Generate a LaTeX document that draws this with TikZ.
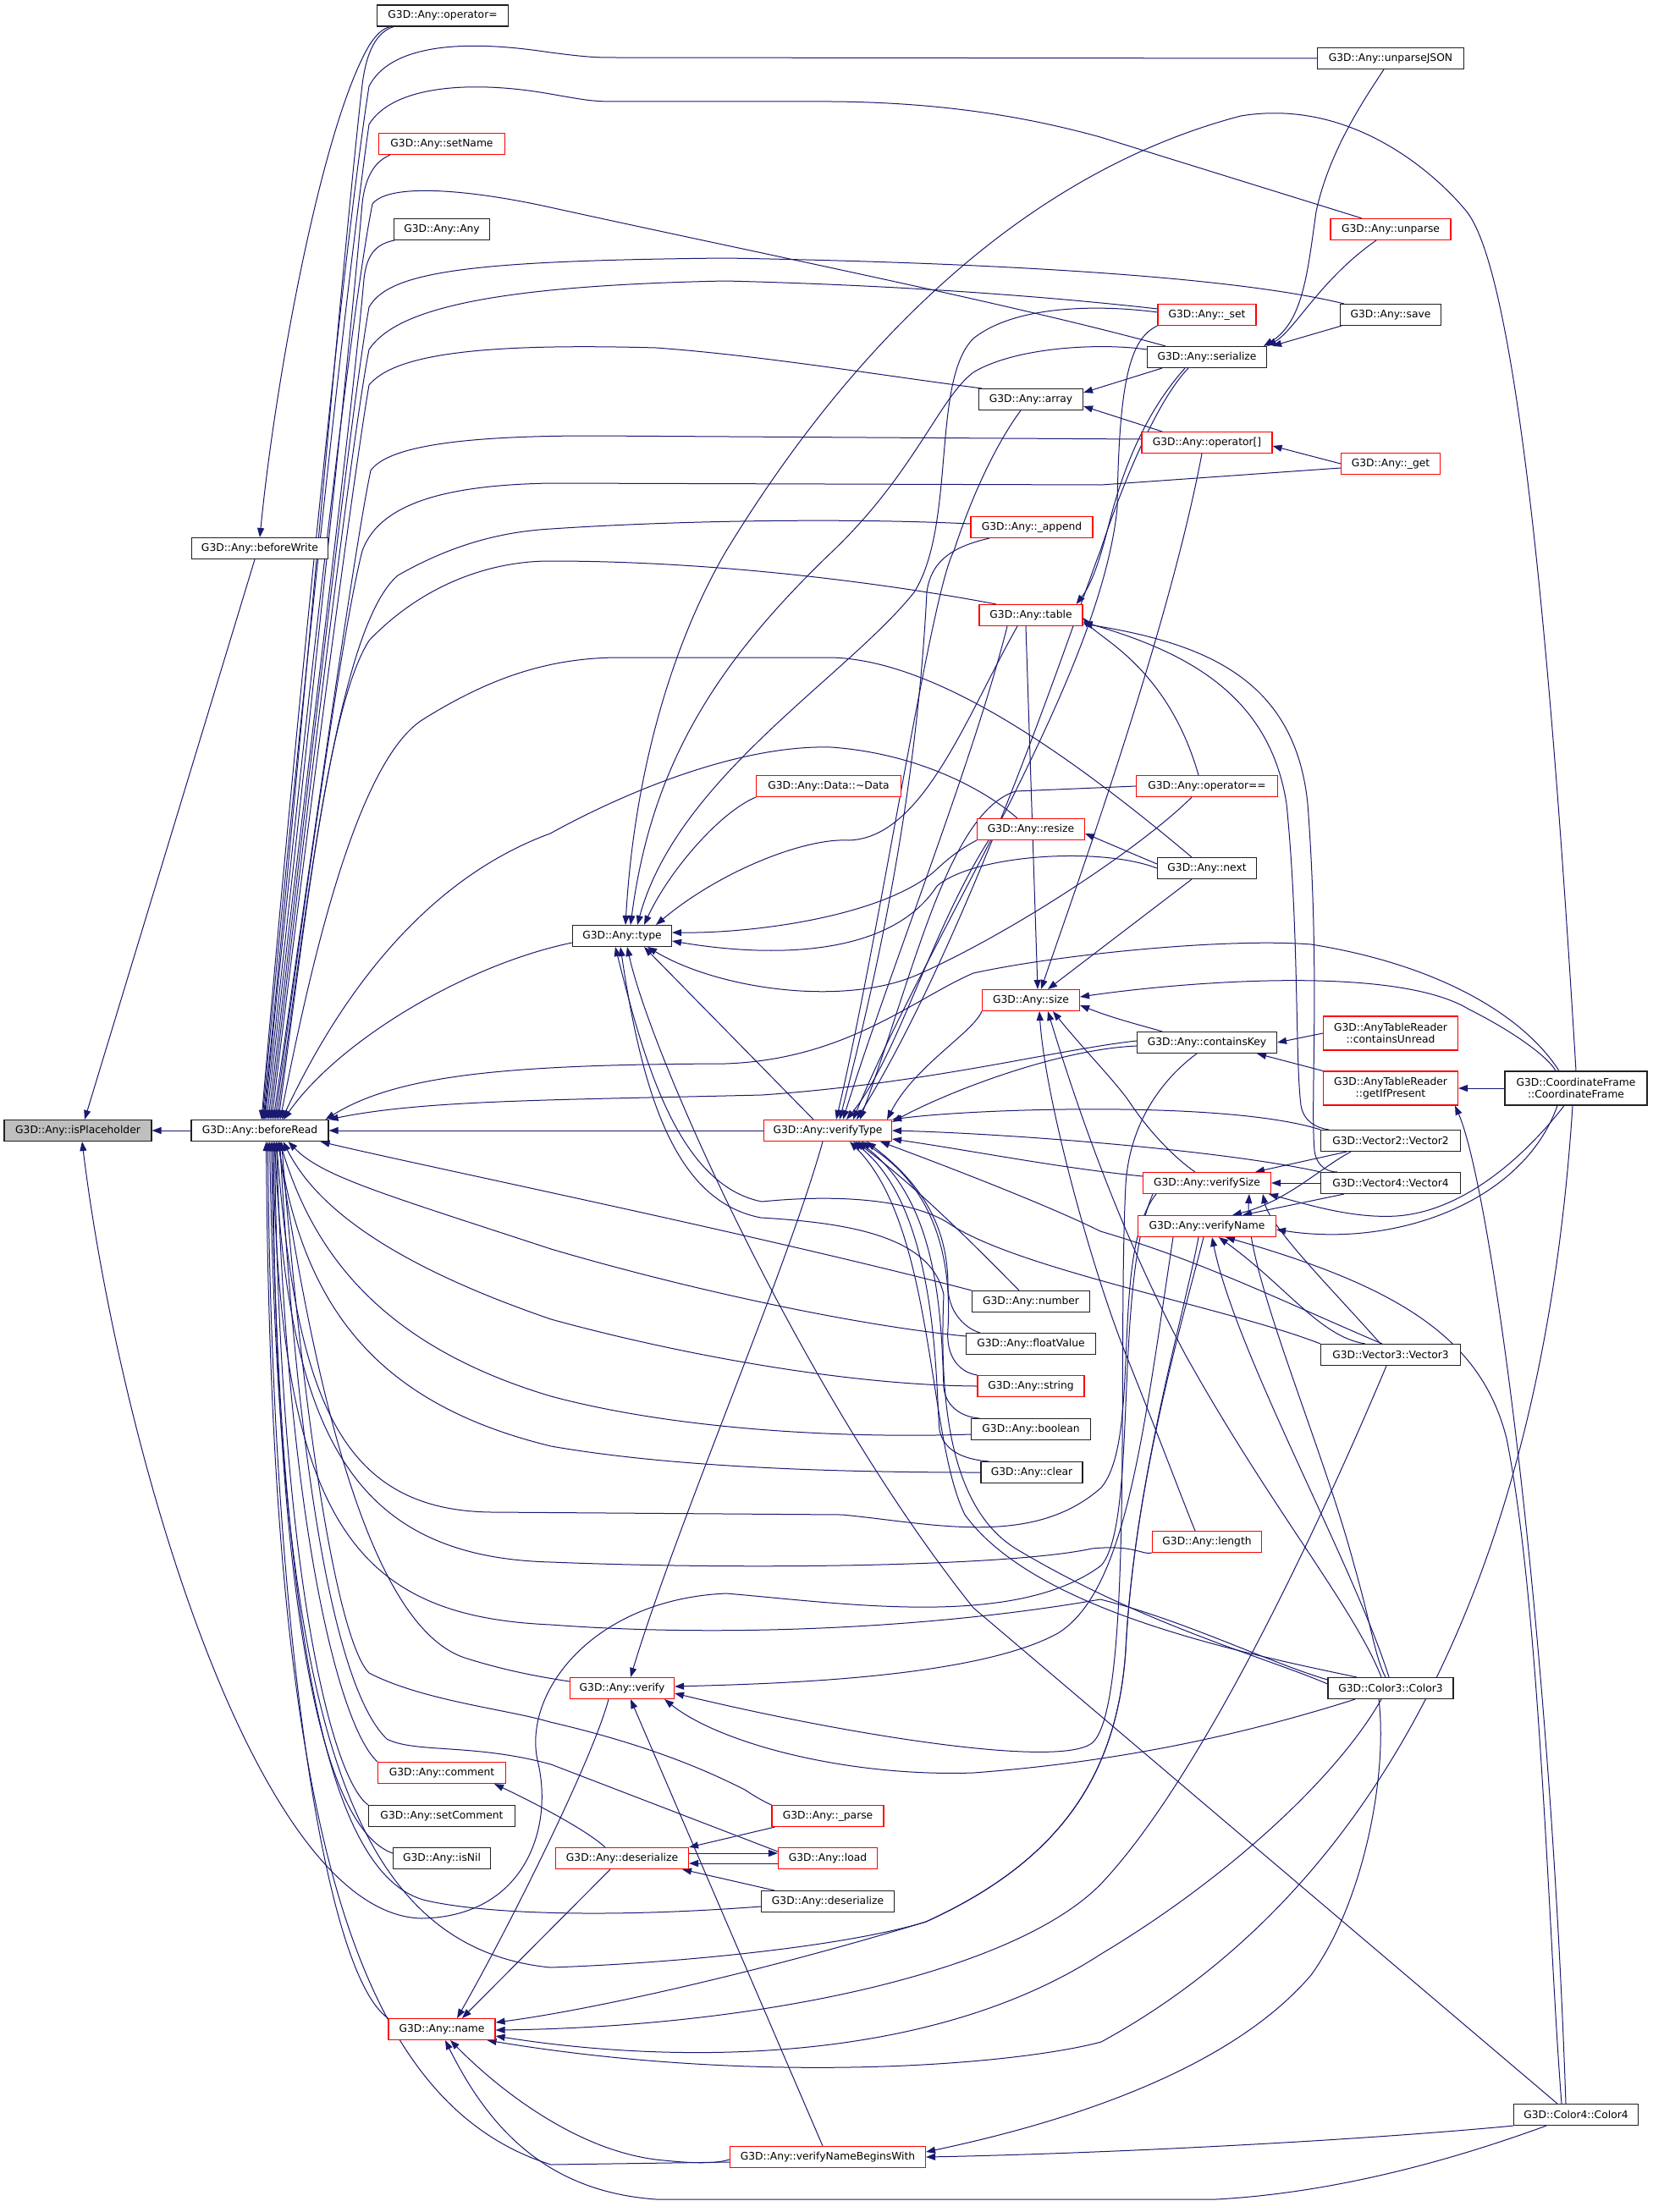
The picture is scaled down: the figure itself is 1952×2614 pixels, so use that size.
\documentclass[tikz,border=0pt]{standalone}
\usepackage{fontspec}
\setmainfont{DejaVu Sans}
\usetikzlibrary{arrows.meta}
\definecolor{navy}{HTML}{191970}
\definecolor{grayfill}{HTML}{BFBFBF}
\definecolor{rdc}{HTML}{FF0000}
\definecolor{bdc}{HTML}{202020}
\pgfdeclarelayer{back}
\pgfdeclarelayer{bg}
\pgfsetlayers{back,bg,main}
\begin{document}
\begin{tikzpicture}[x=1pt,y=-1pt,
  nd/.style={draw=bdc, line width=1.1pt, fill=white, minimum height=25pt, inner sep=0pt, font=\fontsize{12.3}{14.5}\selectfont, text=black},
  rd/.style={nd, draw=rdc},
  e/.style={draw=navy, line width=1pt, arrows={Triangle[length=11pt,width=8pt]-}}]
\begin{pgfonlayer}{back}
\fill[white] (0,0) rectangle (1952,2614);
\end{pgfonlayer}
\useasboundingbox (0,0) rectangle (1952,2614);
% nodes
\node[nd,fill=grayfill,minimum width=174pt] (nIsph) at (92,1336) {G3D::Any::isPlaceholder};
\node[nd,minimum width=162pt] (nBR) at (307,1336) {G3D::Any::beforeRead};
\node[nd,minimum width=161pt] (nBW) at (307,648) {G3D::Any::beforeWrite};
\node[nd,minimum width=155pt] (nOpEq) at (523,18.5) {G3D::Any::operator=};
\node[rd,minimum width=149pt] (nSetName) at (522,170) {G3D::Any::setName};
\node[nd,minimum width=113pt] (nAnyAny) at (522,271) {G3D::Any::Any};
\node[nd,minimum width=117pt] (nType) at (735,1106) {G3D::Any::type};
\node[rd,minimum width=151pt] (nVType) at (978,1336) {G3D::Any::verifyType};
\node[rd,minimum width=123pt] (nVerify) at (735,1995) {G3D::Any::verify};
\node[rd,minimum width=151pt] (nComment) at (522,2095) {G3D::Any::comment};
\node[nd,minimum width=173pt] (nSetComment) at (522,2146) {G3D::Any::setComment};
\node[nd,minimum width=115pt] (nIsNil) at (522,2196) {G3D::Any::isNil};
\node[rd,minimum width=157pt] (nDeser) at (735,2196) {G3D::Any::deserialize};
\node[rd,minimum width=126pt] (nName) at (522,2398) {G3D::Any::name};
\node[rd,minimum width=231pt] (nVnbw) at (978,2549) {G3D::Any::verifyNameBeginsWith};
\node[nd,minimum width=173pt] (nUnparseJSON) at (1643,69) {G3D::Any::unparseJSON};
\node[rd,minimum width=142pt] (nUnparse) at (1643,271) {G3D::Any::unparse};
\node[nd,minimum width=119pt] (nSave) at (1643,372) {G3D::Any::save};
\node[rd,minimum width=116pt] (nSet) at (1426,372) {G3D::Any::\_set};
\node[nd,minimum width=141pt] (nSerialize) at (1426,422) {G3D::Any::serialize};
\node[nd,minimum width=123pt] (nArray) at (1218,472) {G3D::Any::array};
\node[rd,minimum width=154pt] (nOpIdx) at (1426,523) {G3D::Any::operator[]};
\node[rd,minimum width=117pt] (nGet) at (1643,548) {G3D::Any::\_get};
\node[rd,minimum width=144pt] (nAppend) at (1219,623) {G3D::Any::\_append};
\node[rd,minimum width=122pt] (nTable) at (1218,727) {G3D::Any::table};
\node[rd,minimum width=171pt] (nData) at (979,929) {G3D::Any::Data::\textasciitilde Data};
\node[rd,minimum width=167pt] (nOpEqEq) at (1426,929) {G3D::Any::operator==};
\node[rd,minimum width=127pt] (nResize) at (1218,980) {G3D::Any::resize};
\node[nd,minimum width=117pt] (nNext) at (1426,1026) {G3D::Any::next};
\node[rd,minimum width=115pt] (nSize) at (1218,1182) {G3D::Any::size};
\node[nd,minimum width=165pt] (nContainsKey) at (1426,1232) {G3D::Any::containsKey};
\node[rd,minimum width=159pt,minimum height=40pt,align=center] (nContainsUnread) at (1643,1221) {G3D::AnyTableReader\\::containsUnread};
\node[rd,minimum width=159pt,minimum height=40pt,align=center] (nGetIfPresent) at (1643,1286) {G3D::AnyTableReader\\::getIfPresent};
\node[nd,minimum width=168pt,minimum height=40pt,align=center] (nCF) at (1862,1286) {G3D::CoordinateFrame\\::CoordinateFrame};
\node[nd,minimum width=165pt] (nVector2) at (1643,1348) {G3D::Vector2::Vector2};
\node[rd,minimum width=151pt] (nVerifySize) at (1426,1398) {G3D::Any::verifySize};
\node[nd,minimum width=165pt] (nVector4) at (1643,1398) {G3D::Vector4::Vector4};
\node[rd,minimum width=163pt] (nVerifyName) at (1426,1449) {G3D::Any::verifyName};
\node[nd,minimum width=139pt] (nNumber) at (1218,1538) {G3D::Any::number};
\node[nd,minimum width=153pt] (nFloatValue) at (1218,1588) {G3D::Any::floatValue};
\node[nd,minimum width=165pt] (nVector3) at (1643,1601) {G3D::Vector3::Vector3};
\node[rd,minimum width=126pt] (nString) at (1218,1638) {G3D::Any::string};
\node[nd,minimum width=141pt] (nBoolean) at (1218,1689) {G3D::Any::boolean};
\node[nd,minimum width=120pt] (nClear) at (1219,1740) {G3D::Any::clear};
\node[rd,minimum width=129pt] (nLength) at (1426,1822) {G3D::Any::length};
\node[nd,minimum width=148pt] (nColor3) at (1643,1995) {G3D::Color3::Color3};
\node[rd,minimum width=132pt] (nParse) at (978,2146) {G3D::Any::\_parse};
\node[rd,minimum width=117pt] (nLoad) at (978,2196) {G3D::Any::load};
\node[nd,minimum width=157pt] (nDeser2) at (978,2247) {G3D::Any::deserialize};
\node[nd,minimum width=147pt] (nColor4) at (1862,2499) {G3D::Color4::Color4};

\begin{pgfonlayer}{bg}
% isPlaceholder
\draw[e] (nIsph.east) -- (nBR.west);
\draw[e] ([xshift=8pt]nIsph.north) -- ([xshift=-6pt]nBW.south);
\draw[e] ([xshift=5pt]nIsph.south) .. controls (140,1700) and (300,2262) .. (498,2267) .. controls (620,2265) and (655,2160) .. (635,2080) .. controls (618,2000) and (700,1890) .. (858,1883) .. controls (1000,1895) and (1200,1925) .. (1301,1850) .. controls (1345,1800) and (1315,1520) .. ([xshift=-64pt]nVerifySize.south);
% beforeWrite
\draw[e] (nBW.north) .. controls (325,450) and (380,150) .. (436,54) .. controls (445,40) and (452,34) .. ([xshift=-62pt]nOpEq.south);
% beforeRead up
\draw[e] ([xshift=2pt]nBR.north) .. controls (345,900) and (405,300) .. (436,102) .. controls (460,55) and (540,45) .. (650,62) .. controls (690,67) and (700,68) .. (725,68) -- (nUnparseJSON.west);
\draw[e] ([xshift=3pt]nBR.north) .. controls (348,900) and (410,330) .. (436,147) .. controls (465,100) and (560,95) .. (650,111) .. controls (690,118) and (700,120) .. (725,120) -- (982,120) .. controls (1120,121) and (1220,140) .. (1300,162) -- ([xshift=-34pt]nUnparse.north);
\draw[e] ([xshift=4pt]nBR.north) .. controls (345,1000) and (405,300) .. (428,100) .. controls (433,60) and (445,38) .. ([xshift=-58pt]nOpEq.south);
\draw[e] ([xshift=5pt]nBR.north) .. controls (350,950) and (412,380) .. (440,241) .. controls (460,215) and (560,225) .. (650,245) .. controls (900,300) and (1200,360) .. ([xshift=-49pt]nSerialize.north);
\draw[e] ([xshift=6pt]nBR.north) .. controls (350,1000) and (410,450) .. (428,240) .. controls (432,205) and (445,190) .. ([xshift=-61pt]nSetName.south);
\draw[e] ([xshift=8pt]nBR.north) .. controls (352,1000) and (415,500) .. (430,330) .. controls (433,300) and (445,288) .. ([xshift=-56pt]nAnyAny.south);
\draw[e] ([xshift=10pt]nBR.north) .. controls (356,1000) and (415,480) .. (436,363) .. controls (460,320) and (560,308) .. (857,305) .. controls (1150,310) and (1450,325) .. ([xshift=-55pt]nSave.north);
\draw[e] ([xshift=12pt]nBR.north) .. controls (358,1000) and (415,520) .. (436,413) .. controls (465,370) and (560,338) .. (857,332) .. controls (1100,338) and (1280,355) .. ([yshift=7pt]nSet.west);
\draw[e] ([xshift=14pt]nBR.north) .. controls (360,1000) and (418,560) .. (436,455) .. controls (465,420) and (560,405) .. (775,411) .. controls (900,420) and (1050,445) .. ([xshift=-58pt]nArray.north);
\draw[e] ([xshift=16pt]nBR.north) .. controls (362,1050) and (418,650) .. (438,556) .. controls (460,525) and (560,515) .. (700,515) -- ([yshift=4pt]nOpIdx.west);
\draw[e] ([xshift=18pt]nBR.north) .. controls (362,1050) and (405,740) .. (428,651) .. controls (450,590) and (540,573) .. (651,571) -- (1301,573) -- ([yshift=-5pt]nGet.west);
\draw[e] ([xshift=20pt]nBR.north) .. controls (365,1050) and (400,740) .. (470,680) .. controls (540,640) and (600,628) .. (651,625) .. controls (800,615) and (1000,612) .. ([yshift=4pt]nAppend.west);
\draw[e] ([xshift=22pt]nBR.north) .. controls (365,1050) and (390,830) .. (436,757) .. controls (500,690) and (580,663) .. (650,663) .. controls (850,663) and (1050,690) .. ([xshift=-41pt]nTable.north);
\draw[e] ([xshift=24pt]nBR.north) .. controls (365,1150) and (420,900) .. (500,850) .. controls (580,800) and (650,777) .. (733,777) -- (982,777) .. controls (1100,780) and (1250,880) .. ([xshift=-18pt]nNext.north);
\draw[e] ([xshift=26pt]nBR.north) .. controls (400,1180) and (500,1040) .. (650,985) .. controls (750,930) and (880,880) .. (982,883) .. controls (1080,890) and (1160,930) .. ([xshift=-16pt]nResize.north);
\draw[e] ([xshift=28pt]nBR.north) .. controls (400,1230) and (550,1140) .. ([yshift=-8pt]nType.west);
\draw[e] ([xshift=-4pt]nBR.north east) .. controls (470,1270) and (600,1258) .. (857,1257) .. controls (1000,1252) and (1080,1180) .. (1150,1150) .. controls (1250,1128) and (1450,1108) .. (1549,1116) .. controls (1700,1140) and (1800,1200) .. ([xshift=-20pt]nCF.north);
\draw[e] (nBR.north east) .. controls (500,1300) and (650,1300) .. (900,1294) .. controls (1100,1280) and (1250,1240) .. ([yshift=2pt]nContainsKey.west);
\draw[e] (nBR.east) -- (nVType.west);
% beforeRead down
\draw[e] ([xshift=-10pt]nBR.south east) .. controls (500,1378) and (900,1460) .. (nNumber.north west);
\draw[e] ([xshift=-48pt]nBR.south east) .. controls (380,1390) and (450,1410) .. (651,1476) .. controls (800,1520) and (1000,1565) .. ([yshift=9pt]nFloatValue.west);
\draw[e] ([xshift=-54pt]nBR.south east) .. controls (370,1420) and (450,1490) .. (651,1559) .. controls (800,1600) and (1000,1637) .. (nString.west);
\draw[e] ([xshift=-58pt]nBR.south east) .. controls (370,1480) and (450,1590) .. (651,1650) .. controls (800,1690) and (1000,1700) .. ([yshift=-6pt]nBoolean.west);
\draw[e] ([xshift=-60pt]nBR.south east) .. controls (360,1550) and (450,1660) .. (651,1709) .. controls (800,1735) and (1000,1740) .. (nClear.west);
\draw[e] ([xshift=-62pt]nBR.south east) .. controls (350,1650) and (400,1785) .. (581,1787) -- (995,1790) .. controls (1100,1800) and (1220,1830) .. (1301,1758) .. controls (1350,1700) and (1310,1480) .. ([xshift=-60pt]nVerifySize.south);
\draw[e] ([xshift=-64pt]nBR.south east) .. controls (340,1700) and (420,1840) .. (651,1846) .. controls (900,1856) and (1200,1850) .. (1290,1830) .. controls (1340,1825) and (1350,1838) .. (nLength.south west);
\draw[e] ([xshift=-66pt]nBR.south east) .. controls (330,1800) and (420,1910) .. (651,1920) .. controls (850,1935) and (1100,1925) .. (1300,1890) .. controls (1400,1915) and (1500,1965) .. ([yshift=10pt]nColor3.west);
\draw[e] ([xshift=-60pt]nBR.south east) .. controls (380,1700) and (450,1930) .. (552,1960) .. controls (600,1975) and (640,1982) .. ([yshift=8pt]nVerify.west);
\draw[e] ([xshift=-56pt]nBR.south east) .. controls (360,1700) and (400,1940) .. (436,1977) .. controls (500,2010) and (600,2020) .. (650,2035) .. controls (780,2065) and (850,2100) .. (880,2115) .. controls (895,2125) and (905,2130) .. (nParse.north west);
\draw[e] ([xshift=-58pt]nBR.south east) .. controls (350,1700) and (390,1990) .. (457,2055) .. controls (490,2072) and (560,2060) .. (651,2085) -- ([yshift=8pt]nLoad.west);
\draw[e] ([xshift=-62pt]nBR.south east) .. controls (340,1800) and (400,2040) .. (nComment.north west);
\draw[e] ([xshift=-64pt]nBR.south east) .. controls (330,1850) and (390,2100) .. (nSetComment.north west);
\draw[e] ([xshift=-66pt]nBR.south east) .. controls (325,1900) and (380,2160) .. ([yshift=6pt]nIsNil.west);
\draw[e] ([xshift=-68pt]nBR.south east) .. controls (330,1900) and (380,2210) .. (500,2245) .. controls (560,2260) and (700,2268) .. ([yshift=-6pt]nDeser2.west);
\draw[e] ([xshift=-70pt]nBR.south east) .. controls (330,2000) and (400,2300) .. (650,2325) .. controls (800,2320) and (1000,2300) .. (1094,2271) .. controls (1250,2200) and (1320,2100) .. (1330,1950) .. controls (1340,1750) and (1400,1550) .. ([xshift=-10pt]nVerifyName.south);
\draw[e] ([xshift=-72pt]nBR.south east) .. controls (320,1900) and (380,2330) .. (nName.north west);
\draw[e] ([xshift=-74pt]nBR.south east) .. controls (320,2100) and (400,2480) .. (651,2558) -- ([yshift=-6pt]nVnbw.west);
% type
\draw[e] ([xshift=4pt]nType.north) .. controls (750,900) and (800,750) .. (858,651) .. controls (950,500) and (1150,220) .. (1466,137) .. controls (1600,115) and (1700,210) .. (1732,249) .. controls (1800,330) and (1840,900) .. (nCF.north);
\draw[e] ([xshift=10pt]nType.north) .. controls (770,900) and (850,780) .. (982,653) .. controls (1080,560) and (1110,470) .. (1150,440) .. controls (1200,410) and (1300,405) .. ([yshift=9pt]nSerialize.west);
\draw[e] ([xshift=18pt]nType.north) .. controls (800,920) and (1000,800) .. (1080,700) .. controls (1130,620) and (1100,450) .. (1150,400) .. controls (1200,360) and (1300,360) .. ([yshift=3pt]nSet.west);
\draw[e] ([xshift=26pt]nType.north) .. controls (790,1030) and (850,960) .. (nData.south west);
\draw[e] ([xshift=40pt]nType.north) .. controls (850,1030) and (950,990) .. (1003,993) .. controls (1090,990) and (1140,850) .. ([xshift=-16pt]nTable.south);
\draw[e] ([yshift=4pt]nType.east) .. controls (900,1103) and (1050,1080) .. (1107,1027) .. controls (1130,1005) and (1150,995) .. (nResize.south west);
\draw[e] ([yshift=-6pt]nType.east) .. controls (900,1130) and (1050,1135) .. (1107,1047) .. controls (1150,1010) and (1300,1000) .. (nNext.west);
\draw[e] ([xshift=30pt]nType.south) .. controls (850,1170) and (1000,1190) .. (1086,1151) .. controls (1200,1100) and (1350,1000) .. ([xshift=-18pt]nOpEqEq.south);
\draw[e] ([xshift=26pt]nType.south) -- ([xshift=-17pt]nVType.north);
\draw[e] ([xshift=6pt]nType.south) .. controls (770,1250) and (950,1650) .. (1150,1900) -- ([xshift=-22pt]nColor4.north);
\draw[e] ([xshift=-8pt]nType.south) .. controls (760,1250) and (800,1400) .. (900,1420) .. controls (1000,1410) and (1080,1420) .. (1120,1445) .. controls (1200,1500) and (1450,1545) .. (nVector3.north west);
\draw[e] ([xshift=-2pt]nType.south) .. controls (760,1300) and (800,1420) .. (899,1439) .. controls (1000,1445) and (1100,1460) .. (1115,1530) .. controls (1110,1650) and (1120,1780) .. (1200,1830) .. controls (1350,1920) and (1500,1960) .. ([yshift=5pt]nColor3.west);
% verifyType
\draw[e] ([xshift=10pt]nVerify.north) .. controls (800,1800) and (930,1500) .. ([xshift=-6pt]nVType.south);
\draw[e] ([xshift=10pt]nVType.north) .. controls (1040,1100) and (1100,700) .. (1127,651) .. controls (1150,580) and (1180,520) .. ([xshift=-12pt]nArray.south);
\draw[e] ([xshift=14pt]nVType.north) .. controls (1050,1100) and (1085,900) .. (1095,700) .. controls (1100,660) and (1130,645) .. ([xshift=-50pt]nAppend.south);
\draw[e] ([xshift=18pt]nVType.north) .. controls (1050,1150) and (1150,900) .. ([xshift=-28pt]nTable.south);
\draw[e] ([xshift=22pt]nVType.north) .. controls (1060,1250) and (1100,1100) .. ([xshift=-50pt]nResize.south);
\draw[e] ([xshift=30pt]nVType.north) .. controls (1100,1100) and (1300,800) .. (1320,600) .. controls (1322,450) and (1335,400) .. (nSet.south west);
\draw[e] ([xshift=34pt]nVType.north) .. controls (1150,1100) and (1280,700) .. (1300,651) .. controls (1330,560) and (1370,470) .. ([xshift=-22pt]nSerialize.south);
\draw[e] ([xshift=38pt]nVType.north) .. controls (1080,1150) and (1120,960) .. (1200,935) -- (nOpEqEq.west);
\draw[e] ([xshift=-6pt]nVType.north east) .. controls (1080,1260) and (1150,1220) .. (nSize.south west);
\draw[e] ([yshift=-3pt]nVType.north east) .. controls (1120,1290) and (1250,1240) .. ([yshift=-4pt]nContainsKey.west);
\draw[e] (nVType.north east) .. controls (1150,1310) and (1450,1300) .. (nVector2.north west);
\draw[e] (nVType.east) .. controls (1200,1340) and (1450,1360) .. (nVector4.north west);
\draw[e] ([yshift=-10pt]nVType.east) .. controls (1150,1360) and (1250,1380) .. ([yshift=8pt]nVerifySize.west);
\draw[e] ([xshift=62pt]nVType.south) .. controls (1150,1390) and (1250,1430) .. (1300,1455) .. controls (1420,1490) and (1520,1540) .. ([xshift=-10pt]nVector3.north);
\draw[e] ([xshift=33pt]nVType.south) .. controls (1080,1400) and (1150,1470) .. ([xshift=-14pt]nNumber.north);
\draw[e] ([xshift=46pt]nVType.south) .. controls (1090,1400) and (1120,1450) .. (1120,1520) .. controls (1120,1550) and (1140,1570) .. ([xshift=17pt]nFloatValue.north west);
\draw[e] ([xshift=40pt]nVType.south) .. controls (1100,1400) and (1125,1480) .. (1120,1570) .. controls (1117,1605) and (1135,1622) .. (nString.north west);
\draw[e] ([xshift=36pt]nVType.south) .. controls (1110,1420) and (1112,1560) .. (1115,1640) .. controls (1118,1665) and (1140,1675) .. ([xshift=10pt]nBoolean.north west);
\draw[e] ([xshift=30pt]nVType.south) .. controls (1110,1430) and (1105,1640) .. (1110,1690) .. controls (1115,1715) and (1140,1725) .. ([xshift=10pt]nClear.north west);
\draw[e] ([xshift=26pt]nVType.south) .. controls (1105,1450) and (1095,1700) .. (1140,1790) .. controls (1220,1900) and (1450,1950) .. ([xshift=-40pt]nColor3.north);
% size
\draw[e] ([xshift=12pt]nSize.north) .. controls (1260,1080) and (1380,750) .. ([xshift=-6pt]nOpIdx.south);
\draw[e] ([xshift=20pt]nSize.north) -- ([xshift=-18pt]nNext.south);
\draw[e] ([xshift=8pt]nSize.north) -- ([xshift=-6pt]nTable.south);
\draw[e] ([yshift=4pt]nSize.east) .. controls (1400,1160) and (1650,1140) .. (1736,1193) .. controls (1790,1220) and (1830,1250) .. ([xshift=-24pt]nCF.north);
\draw[e] ([yshift=-6pt]nSize.east) .. controls (1320,1205) and (1350,1212) .. ([xshift=-53pt]nContainsKey.north);
\draw[e] ([xshift=10pt]nSize.south) .. controls (1235,1300) and (1290,1500) .. (1330,1600) .. controls (1370,1700) and (1400,1780) .. ([xshift=-14pt]nLength.north);
\draw[e] ([xshift=26pt]nSize.south) .. controls (1280,1240) and (1320,1280) .. (1337,1306) .. controls (1360,1340) and (1390,1370) .. ([xshift=-14pt]nVerifySize.north);
\draw[e] ([xshift=20pt]nSize.south) .. controls (1270,1300) and (1320,1450) .. (1400,1600) .. controls (1500,1780) and (1600,1900) .. ([xshift=-11pt]nColor3.north);
% table
\draw[e] ([yshift=-3pt]nTable.east) .. controls (1300,755) and (1380,790) .. ([xshift=-10pt]nOpEqEq.north);
\draw[e] ([yshift=-8pt]nTable.east) .. controls (1400,770) and (1500,820) .. (1520,950) .. controls (1535,1100) and (1530,1250) .. (1537,1306) .. controls (1540,1325) and (1555,1333) .. ([xshift=10pt]nVector2.north west);
\draw[e] ([yshift=-10pt]nTable.east) .. controls (1420,760) and (1530,800) .. (1545,950) .. controls (1560,1150) and (1548,1300) .. (1553,1360) .. controls (1556,1380) and (1570,1385) .. ([xshift=20pt]nVector4.north west);
\draw[e] ([xshift=-8pt]nTable.north east) .. controls (1290,690) and (1300,660) .. (1310,620) .. controls (1330,540) and (1360,480) .. ([xshift=-26pt]nSerialize.south);
% serialize / array / misc
\draw[e] ([yshift=8pt]nArray.east) -- ([xshift=-53pt]nSerialize.south);
\draw[e] ([yshift=-8pt]nArray.east) -- ([xshift=-53pt]nOpIdx.north);
\draw[e] ([xshift=-4pt]nSerialize.north east) .. controls (1540,380) and (1545,320) .. (1555,250) .. controls (1570,180) and (1610,120) .. ([xshift=-8pt]nUnparseJSON.south);
\draw[e] (nSerialize.north east) .. controls (1530,390) and (1560,330) .. ([xshift=-17pt]nUnparse.south);
\draw[e] ([xshift=6pt]nSerialize.north east) -- ([xshift=2pt]nSave.south west);
\draw[e] ([yshift=-4pt]nOpIdx.east) -- (nGet.west);
\draw[e] ([yshift=-5pt]nResize.east) -- ([yshift=5pt]nNext.west);
\draw[e] (nContainsKey.east) -- (nContainsUnread.west);
\draw[e] ([xshift=-24pt]nContainsKey.south east) -- (nGetIfPresent.north west);
\draw[e] (nGetIfPresent.east) -- (nCF.west);
\draw[e] ([xshift=-4pt]nGetIfPresent.south east) .. controls (1760,1400) and (1830,1900) .. ([xshift=-12pt]nColor4.north);
% verifySize / verifyName
\draw[e] ([xshift=57pt]nVerifySize.north) -- ([xshift=-52pt]nVector2.south);
\draw[e] (nVerifySize.east) -- (nVector4.west);
\draw[e] ([xshift=73pt]nVerifySize.south) .. controls (1550,1425) and (1600,1440) .. (1650,1437) .. controls (1750,1430) and (1830,1330) .. ([xshift=-14pt]nCF.south);
\draw[e] ([xshift=66pt]nVerifySize.south) .. controls (1500,1450) and (1580,1530) .. ([xshift=-12pt]nVector3.north);
\draw[e] ([xshift=50pt]nVerifySize.south) .. controls (1470,1500) and (1560,1700) .. (1600,1850) .. controls (1620,1920) and (1625,1960) .. ([xshift=-6pt]nColor3.north);
\draw[e] ([xshift=30pt]nVerifyName.north) .. controls (1520,1420) and (1560,1380) .. ([xshift=-47pt]nVector2.south);
\draw[e] ([xshift=42pt]nVerifyName.north) -- ([xshift=-55pt]nVector4.south);
\draw[e] ([yshift=-4pt]nVerifyName.east) .. controls (1650,1475) and (1800,1420) .. ([xshift=-22pt]nCF.south);
\draw[e] ([xshift=14pt]nVerifyName.south) .. controls (1520,1520) and (1560,1580) .. ([xshift=-30pt]nVector3.north);
\draw[e] ([xshift=22pt]nVerifyName.south) .. controls (1650,1520) and (1750,1580) .. (1780,1700) .. controls (1820,1900) and (1830,2300) .. ([xshift=-17pt]nColor4.north);
\draw[e] ([xshift=6pt]nVerifyName.south) .. controls (1460,1600) and (1600,1850) .. ([xshift=-2pt]nColor3.north);
% verify
\draw[e] ([yshift=2pt]nVerify.east) .. controls (900,1990) and (1150,1985) .. (1250,1930) .. controls (1330,1880) and (1350,1700) .. ([xshift=-40pt]nVerifyName.south);
\draw[e] ([yshift=-6pt]nVerify.east) .. controls (1000,2050) and (1250,2090) .. (1290,2060) .. controls (1340,2020) and (1320,1600) .. (1330,1400) .. controls (1335,1320) and (1380,1270) .. ([xshift=-12pt]nContainsKey.south);
\draw[e] ([xshift=-12pt]nVerify.south east) .. controls (850,2060) and (1000,2100) .. (1150,2095) .. controls (1350,2080) and (1500,2040) .. ([xshift=-42pt]nColor3.south);
\draw[e] ([xshift=10pt]nVerify.south) -- ([xshift=-6pt]nVnbw.north);
% deserialize
\draw[e] (nDeser.north east) -- ([xshift=4pt]nParse.south west);
\draw[e] ([yshift=6pt]nLoad.west) -- ([yshift=6pt]nDeser.east);
\draw[e] ([yshift=-6pt]nDeser.east) -- ([yshift=-6pt]nLoad.west);
\draw[e] ([xshift=-8pt]nDeser.south east) -- ([xshift=16pt]nDeser2.north west);
\draw[e] ([xshift=-14pt]nComment.south east) .. controls (620,2125) and (690,2160) .. ([xshift=-20pt]nDeser.north);
% name
\draw[e] ([xshift=18pt]nName.north) .. controls (600,2280) and (700,2080) .. ([xshift=-16pt]nVerify.south);
\draw[e] ([xshift=24pt]nName.north) -- ([xshift=-14pt]nDeser.south);
\draw[e] ([yshift=8pt]nName.east) .. controls (700,2375) and (900,2330) .. (1094,2271) .. controls (1250,2200) and (1320,2100) .. (1330,1950) .. controls (1340,1750) and (1400,1550) .. ([xshift=-4pt]nVerifyName.south);
\draw[e] ([yshift=-1pt]nName.east) .. controls (900,2395) and (1200,2330) .. (1301,2226) .. controls (1420,2100) and (1560,1800) .. ([xshift=-5pt]nVector3.south);
\draw[e] ([yshift=-8pt]nName.east) .. controls (800,2440) and (1100,2440) .. (1301,2309) .. controls (1450,2220) and (1580,2100) .. ([xshift=-11pt]nColor3.south);
\draw[e] ([xshift=-10pt]nName.south east) .. controls (900,2465) and (1200,2440) .. (1301,2413) .. controls (1600,2250) and (1820,1900) .. ([xshift=-4pt]nCF.south);
\draw[e] ([xshift=10pt]nName.south) .. controls (590,2470) and (680,2540) .. (775,2552) .. controls (820,2557) and (845,2557) .. ([yshift=-3pt]nVnbw.west);
\draw[e] ([xshift=4pt]nName.south) .. controls (580,2520) and (650,2590) .. (775,2599) -- (1437,2599) .. controls (1600,2590) and (1750,2540) .. ([xshift=-35pt]nColor4.south);
% verifyNameBeginsWith
\draw[e] ([yshift=6pt]nVnbw.east) .. controls (1250,2510) and (1450,2450) .. (1549,2334) .. controls (1610,2250) and (1640,2100) .. ([xshift=-14pt]nColor3.south);
\draw[e] (nVnbw.east) .. controls (1300,2545) and (1600,2530) .. (nColor4.south west);
\end{pgfonlayer}
\end{tikzpicture}
\end{document}
